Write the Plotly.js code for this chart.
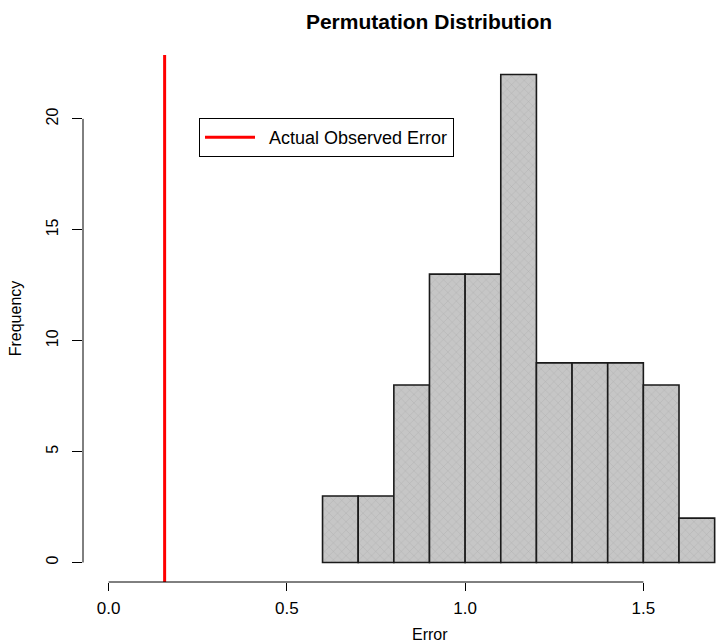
<!DOCTYPE html>
<html>
<head>
<meta charset="utf-8">
<script src="https://cdn.plot.ly/plotly-3.0.1.min.js"></script>
<style>html,body{margin:0;padding:0;background:#fff;}#chart{width:720px;height:644px;}</style>
</head>
<body>
<div id="chart"></div>
<script>
// Histogram bins (left edges) and counts
const binStarts = [0.6, 0.7, 0.8, 0.9, 1.0, 1.1, 1.2, 1.3, 1.4, 1.5, 1.6];
const counts    = [3,   3,   8,   13,  13,  22,  9,   9,   9,   8,   2];
const binWidth = 0.1;
const observedError = 0.157;
const xTickVals = [0, 0.5, 1.0, 1.5];
const xTickText = ['0.0', '0.5', '1.0', '1.5'];
const yTickVals = [0, 5, 10, 15, 20];
const yTickText = ['0', '5', '10', '15', '20'];

const xRange = [-0.072, 1.715];
const yRange = [-0.88, 22.88];
const FONT = 'Liberation Sans, Arial, Helvetica, sans-serif';

const bars = {
  type: 'bar',
  x: binStarts.map(s => s + binWidth / 2),
  y: counts,
  width: binStarts.map(() => binWidth),
  marker: {
    color: '#c4c4c4',
    line: {color: '#1a1a1a', width: 1.6},
    pattern: {shape: 'x', size: 6, solidity: 0.12, fgcolor: '#a9a9a9', bgcolor: '#c6c6c6'}
  },
  showlegend: false,
  hoverinfo: 'x+y'
};

const obsLine = {
  type: 'scatter',
  mode: 'lines',
  x: [observedError, observedError],
  y: yRange,
  line: {color: '#ff0000', width: 3},
  name: '\u2002Actual Observed Error',
  showlegend: true
};

const layout = {
  width: 720,
  height: 644,
  margin: {l: 83, r: 0, t: 55, b: 62},
  paper_bgcolor: '#ffffff',
  plot_bgcolor: '#ffffff',
  font: {family: FONT, color: '#000000', size: 16},
  title: {
    text: '<b>Permutation Distribution</b>',
    font: {family: FONT, size: 21, color: '#000000'},
    xref: 'container', yref: 'container',
    x: 429 / 720, xanchor: 'center',
    y: 1 - 22 / 644, yanchor: 'middle'
  },
  bargap: 0,
  showlegend: true,
  legend: {
    x: (199 - 83) / 637, xanchor: 'left',
    y: (582 - 118) / 527, yanchor: 'top',
    bgcolor: '#ffffff',
    bordercolor: '#000000',
    borderwidth: 1,
    font: {family: FONT, size: 18, color: '#000000'},
    itemwidth: 50
  },
  xaxis: {
    range: xRange,
    showgrid: false, zeroline: false, showline: false,
    tickmode: 'array', tickvals: xTickVals, ticktext: xTickText,
    ticks: 'outside', ticklen: 8, tickwidth: 1, tickcolor: '#000000',
    ticklabelstandoff: 3,
    tickfont: {family: FONT, size: 17, color: '#000000'}
  },
  yaxis: {
    range: yRange,
    showgrid: false, zeroline: false, showline: false,
    tickmode: 'array', tickvals: yTickVals, ticktext: yTickText,
    tickangle: -90,
    ticks: 'outside', ticklen: 10, tickwidth: 1, tickcolor: '#000000',
    ticklabelstandoff: 8,
    tickfont: {family: FONT, size: 16, color: '#000000'},
    title: {text: 'Frequency', font: {family: FONT, size: 16, color: '#000000'}, standoff: 17}
  },
  shapes: [
    {type: 'line', xref: 'x', yref: 'paper', x0: xTickVals[0], x1: xTickVals[xTickVals.length - 1], y0: 0, y1: 0,
     line: {color: '#000000', width: 1}},
    {type: 'line', xref: 'paper', yref: 'y', x0: 0, x1: 0, y0: yTickVals[0], y1: yTickVals[yTickVals.length - 1],
     line: {color: '#000000', width: 1}}
  ],
  annotations: [
    {text: 'Error', xref: 'paper', yref: 'paper', x: (430 - 83) / 637, y: -(634 - 582) / 527,
     xanchor: 'center', yanchor: 'middle', showarrow: false,
     font: {family: FONT, size: 16, color: '#000000'}}
  ]
};

Plotly.newPlot('chart', [bars, obsLine], layout, {displayModeBar: false, staticPlot: true});
</script>
</body>
</html>
